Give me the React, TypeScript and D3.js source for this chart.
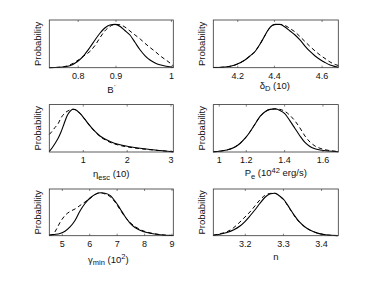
import React from 'react';
import * as d3 from 'd3';

// B'
const bX = [0.738, 0.761, 0.782, 0.797, 0.812, 0.825, 0.836, 0.847, 0.857, 0.868, 0.879, 0.890, 0.900, 0.911, 0.922, 0.933, 0.943, 0.954, 0.965, 0.975, 0.986, 0.997, 1.004];
const bSolid = [0.002, 0.009, 0.046, 0.131, 0.281, 0.466, 0.639, 0.800, 0.915, 0.985, 0.998, 0.950, 0.858, 0.754, 0.581, 0.408, 0.281, 0.178, 0.108, 0.067, 0.039, 0.021, 0.009];
const bDashed = [0.002, 0.012, 0.062, 0.155, 0.270, 0.374, 0.512, 0.696, 0.846, 0.950, 1.0, 0.989, 0.939, 0.846, 0.754, 0.662, 0.565, 0.466, 0.374, 0.281, 0.194, 0.108, 0.039];
const bTicks = [0.8, 0.881, 1.0];
const bTickLabels = ['0.8', '0.9', '1'];

// delta_D (10)
const dX = [4.084, 4.140, 4.187, 4.234, 4.258, 4.282, 4.306, 4.325, 4.344, 4.363, 4.382, 4.401, 4.424, 4.448, 4.472, 4.495, 4.519, 4.543, 4.567, 4.590, 4.614, 4.638, 4.662, 4.677];
const dSolid = [0.005, 0.016, 0.062, 0.178, 0.270, 0.374, 0.547, 0.708, 0.869, 0.973, 1.0, 0.996, 0.939, 0.846, 0.754, 0.639, 0.500, 0.374, 0.270, 0.189, 0.120, 0.062, 0.028, 0.009];
const dDashed = [0.005, 0.016, 0.062, 0.178, 0.270, 0.374, 0.547, 0.708, 0.869, 0.973, 1.0, 1.0, 0.973, 0.904, 0.823, 0.719, 0.604, 0.489, 0.385, 0.293, 0.212, 0.131, 0.074, 0.051];
const dTicks = [4.2, 4.374, 4.6];
const dTickLabels = ['4.2', '4.4', '4.6'];

// eta_esc (10)
const eX = [0.225, 0.287, 0.355, 0.423, 0.492, 0.560, 0.629, 0.697, 0.765, 0.834, 0.925, 1.039, 1.153, 1.267, 1.381, 1.609, 1.837, 2.065, 2.293, 2.521, 2.750, 3.053];
const eSolid = [0.012, 0.093, 0.198, 0.314, 0.465, 0.651, 0.837, 0.942, 0.993, 0.977, 0.896, 0.756, 0.605, 0.477, 0.372, 0.244, 0.167, 0.121, 0.086, 0.058, 0.035, 0.005];
const eDashed = [0.407, 0.477, 0.570, 0.651, 0.791, 0.884, 0.942, 0.977, 0.993, 0.977, 0.896, 0.756, 0.605, 0.470, 0.361, 0.226, 0.151, 0.109, 0.077, 0.053, 0.033, 0.005];
const eTicks = [1, 2, 3];
const eTickLabels = ['1', '2', '3'];

// P_e (10^42 erg/s)
const pX = [1.028, 1.063, 1.099, 1.136, 1.167, 1.193, 1.219, 1.246, 1.272, 1.298, 1.324, 1.350, 1.376, 1.402, 1.428, 1.454, 1.480, 1.506, 1.532, 1.558, 1.585, 1.626, 1.680];
const pSolid = [0.005, 0.019, 0.047, 0.102, 0.198, 0.314, 0.465, 0.651, 0.826, 0.935, 0.989, 1.0, 0.965, 0.884, 0.721, 0.547, 0.372, 0.221, 0.128, 0.074, 0.047, 0.023, 0.007];
const pDashed = [0.005, 0.019, 0.047, 0.102, 0.198, 0.314, 0.465, 0.651, 0.826, 0.935, 0.989, 1.0, 0.989, 0.942, 0.849, 0.721, 0.558, 0.372, 0.233, 0.140, 0.086, 0.040, 0.012];
const pTicks = [1.059, 1.2, 1.4, 1.6];
const pTickLabels = ['1', '1.2', '1.4', '1.6'];

// gamma_min (10^2)
const gX = [4.526, 4.661, 4.770, 4.916, 5.098, 5.281, 5.463, 5.645, 5.827, 6.010, 6.192, 6.374, 6.557, 6.739, 6.921, 7.103, 7.286, 7.468, 7.650, 7.833, 8.197, 8.562, 9.047];
const gSolid = [0.016, 0.026, 0.033, 0.052, 0.106, 0.205, 0.358, 0.582, 0.758, 0.888, 0.970, 1.013, 1.0, 0.951, 0.817, 0.641, 0.452, 0.299, 0.193, 0.127, 0.057, 0.021, 0.005];
const gDashed = [0.009, 0.028, 0.134, 0.311, 0.476, 0.570, 0.629, 0.711, 0.794, 0.876, 0.970, 1.017, 0.982, 0.923, 0.794, 0.617, 0.445, 0.311, 0.217, 0.146, 0.068, 0.026, 0.005];
const gTicks = [5, 6, 7, 8, 9];
const gTickLabels = ['5', '6', '7', '8', '9'];

// n
const nX = [3.116, 3.133, 3.152, 3.170, 3.186, 3.199, 3.212, 3.225, 3.238, 3.251, 3.264, 3.277, 3.290, 3.303, 3.316, 3.329, 3.342, 3.355, 3.368, 3.381, 3.394, 3.415, 3.442];
const nSolid = [0.012, 0.035, 0.075, 0.139, 0.228, 0.334, 0.464, 0.605, 0.758, 0.900, 0.982, 1.001, 0.935, 0.829, 0.652, 0.476, 0.323, 0.217, 0.139, 0.087, 0.049, 0.016, 0.002];
const nDashed = [0.012, 0.045, 0.094, 0.193, 0.323, 0.440, 0.558, 0.699, 0.841, 0.947, 0.994, 1.001, 0.935, 0.817, 0.641, 0.464, 0.318, 0.217, 0.139, 0.087, 0.049, 0.016, 0.002];
const nTicks = [3.2, 3.3, 3.4];
const nTickLabels = ['3.2', '3.3', '3.4'];

const FONT = '"Liberation Sans", Arial, Helvetica, sans-serif';
const Y_MAX = 1.1;
const SUB = 7.5; // sub/superscript font size

// layout of the 3x2 grid
const COL_LEFT = [49.3, 213.3];
const COL_WIDTH = [124, 125];
const ROW_TOP = [20, 104.6, 189];
const ROW_HEIGHT = [47.7, 47.4, 46.7];

const panels = [
  { row: 0, col: 0, x: bX, solid: bSolid, dashed: bDashed, domain: [0.738, 1.004], ticks: bTicks, tickLabels: bTickLabels, labelDy: 25, labelDx: 0,
    label: <><tspan>B</tspan><tspan fontSize={6} dy={-4} dx={0.5}>'</tspan></> },
  { row: 0, col: 1, x: dX, solid: dSolid, dashed: dDashed, domain: [4.084, 4.677], ticks: dTicks, tickLabels: dTickLabels, labelDy: 21, labelDx: -1,
    label: <><tspan>δ</tspan><tspan fontSize={SUB} dy={2.5}>D</tspan><tspan dy={-2.5}> (10)</tspan></> },
  { row: 1, col: 0, x: eX, solid: eSolid, dashed: eDashed, domain: [0.225, 3.052], ticks: eTicks, tickLabels: eTickLabels, labelDy: 25.5, labelDx: 0,
    label: <><tspan>η</tspan><tspan fontSize={SUB} dy={2.5}>esc</tspan><tspan dy={-2.5}> (10)</tspan></> },
  { row: 1, col: 1, x: pX, solid: pSolid, dashed: pDashed, domain: [1.028, 1.680], ticks: pTicks, tickLabels: pTickLabels, labelDy: 24.5, labelDx: 0,
    label: <><tspan>P</tspan><tspan fontSize={SUB} dy={2.5}>e</tspan><tspan dy={-2.5}> (10</tspan><tspan fontSize={SUB} dy={-3.5}>42</tspan><tspan dy={3.5}> erg/s)</tspan></> },
  { row: 2, col: 0, x: gX, solid: gSolid, dashed: gDashed, domain: [4.526, 9.047], ticks: gTicks, tickLabels: gTickLabels, labelDy: 26.8, labelDx: -3,
    label: <><tspan>γ</tspan><tspan fontSize={SUB} dy={2.5}>min</tspan><tspan dy={-2.5}> (10</tspan><tspan fontSize={SUB} dy={-3.5}>2</tspan><tspan dy={3.5}>)</tspan></> },
  { row: 2, col: 1, x: nX, solid: nSolid, dashed: nDashed, domain: [3.116, 3.444], ticks: nTicks, tickLabels: nTickLabels, labelDy: 24, labelDx: 0,
    label: <tspan>n</tspan> },
];

const Panel: React.FC<{ p: typeof panels[number] }> = ({ p }) => {
  const left = COL_LEFT[p.col];
  const top = ROW_TOP[p.row];
  const w = COL_WIDTH[p.col];
  const h = ROW_HEIGHT[p.row];

  const xScale = d3.scaleLinear().domain(p.domain).range([0, w]);
  const yScale = d3.scaleLinear().domain([0, Y_MAX]).range([h, 0]);

  const line = d3
    .line<number>()
    .x((_, i) => xScale(p.x[i]))
    .y((d) => yScale(d))
    .curve(d3.curveMonotoneX);

  return (
    <g transform={`translate(${left},${top})`}>
      <path d={line(p.dashed) ?? ''} fill="none" stroke="#000" strokeWidth={1} strokeDasharray="4,3" />
      <path d={line(p.solid) ?? ''} fill="none" stroke="#000" strokeWidth={1.1} />
      <rect x={0} y={0} width={w} height={h} fill="none" stroke="#333" strokeWidth={0.8} />
      {p.ticks.map((t, i) => (
        <g key={i}>
          <line x1={xScale(t)} x2={xScale(t)} y1={h} y2={h - 2} stroke="#333" strokeWidth={0.6} />
          <line x1={xScale(t)} x2={xScale(t)} y1={0} y2={2} stroke="#333" strokeWidth={0.6} />
          <text x={xScale(t)} y={h + 11.5} textAnchor="middle" fontSize={9} fill="#111">
            {p.tickLabels[i]}
          </text>
        </g>
      ))}
      <text x={w / 2 + p.labelDx} y={h + p.labelDy} textAnchor="middle" fontSize={9.5} fill="#111">
        {p.label}
      </text>
      <text
        transform={`translate(-8,${h / 2}) rotate(-90)`}
        textAnchor="middle"
        fontSize={9.5}
        fill="#111"
      >
        Probability
      </text>
    </g>
  );
};

export default function App() {
  return (
    <svg
      width={374}
      height={281}
      style={{ position: 'absolute', left: 0, top: 0, background: '#fff' }}
      fontFamily={FONT}
    >
      <rect width={374} height={281} fill="#fff" />
      {panels.map((p, i) => (
        <Panel key={i} p={p} />
      ))}
    </svg>
  );
}
